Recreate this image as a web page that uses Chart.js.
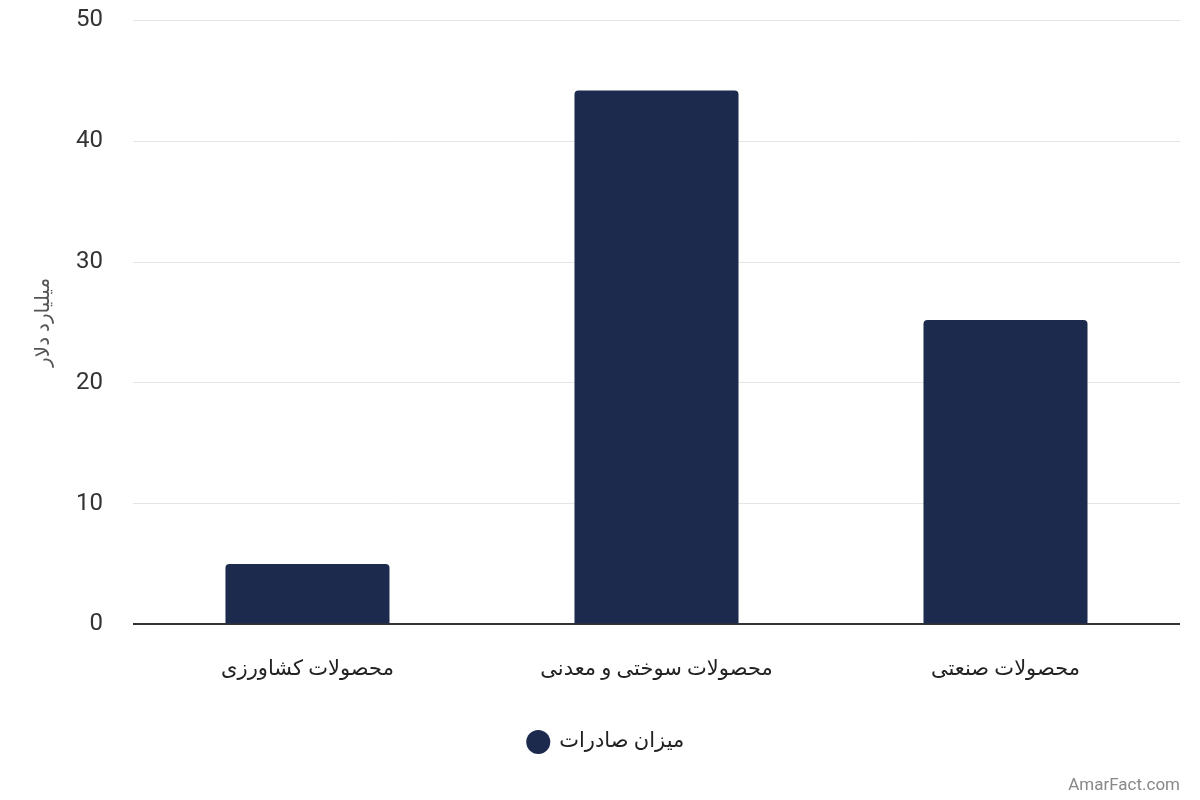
<!DOCTYPE html>
<html lang="fa">
<head>
  <meta charset="utf-8">
  <title>میزان صادرات</title>
  <script src="https://cdn.jsdelivr.net/npm/chart.js@4/dist/chart.umd.min.js"></script>
  <style>
    html, body { margin: 0; padding: 0; background: #fff; }
    .wrapper { width: 1200px; height: 800px; }
  </style>
</head>
<body>
  <div class="wrapper">
    <canvas id="chart-0"></canvas>
  </div>

  <script>
    let categories = ['محصولات کشاورزی', 'محصولات سوختی و معدنی', 'محصولات صنعتی'];
    let exportValues = [5.0, 44.2, 25.2];
    let seriesName = 'میزان صادرات';
    let yTitle = 'میلیارد دلار';
    let yMin = 0, yMax = 50, yStep = 10;

    let fontFamily = "Roboto, 'DejaVu Sans', sans-serif";
    let barColor = '#1c2b4d';

    let chart = new Chart('chart-0', {
      type: 'bar',
      data: {
        labels: categories,
        datasets: [{
          label: seriesName,
          data: exportValues,
          backgroundColor: barColor,
          borderRadius: {topLeft: 4, topRight: 4},
          borderSkipped: 'start',
          barPercentage: 0.47,
          categoryPercentage: 1
        }]
      },
      options: {
        responsive: true,
        maintainAspectRatio: false,
        animation: false,
        layout: {
          padding: {top: 0, right: 20, bottom: 4, left: 32}
        },
        scales: {
          x: {
            grid: { display: false },
            border: { display: false },
            ticks: {
              padding: 25,
              color: '#222',
              font: { family: fontFamily, size: 21 }
            }
          },
          y: {
            min: yMin,
            max: yMax,
            border: { display: false },
            grid: {
              drawTicks: true,
              tickLength: 24,
              tickColor: 'transparent',
              color: ctx => ctx.tick && ctx.tick.value === 0 ? '#333' : '#e4e4e4',
              lineWidth: ctx => ctx.tick && ctx.tick.value === 0 ? 2 : 1
            },
            ticks: {
              stepSize: yStep,
              padding: 6,
              color: '#333',
              font: { family: fontFamily, size: 24 }
            },
            title: {
              display: true,
              text: yTitle,
              color: '#555',
              padding: {top: 0, bottom: 14},
              font: { family: fontFamily, size: 20 }
            }
          }
        },
        plugins: {
          legend: {
            position: 'bottom',
            labels: {
              usePointStyle: true,
              pointStyle: 'circle',
              boxHeight: 17,
              padding: 24,
              color: '#222',
              font: { family: fontFamily, size: 21 }
            }
          },
          subtitle: {
            display: true,
            text: 'AmarFact.com',
            position: 'bottom',
            align: 'end',
            color: '#888',
            padding: {top: 13, bottom: 0},
            font: { family: fontFamily, size: 17 }
          },
          tooltip: { enabled: false }
        }
      }
    });
  </script>
</body>
</html>
